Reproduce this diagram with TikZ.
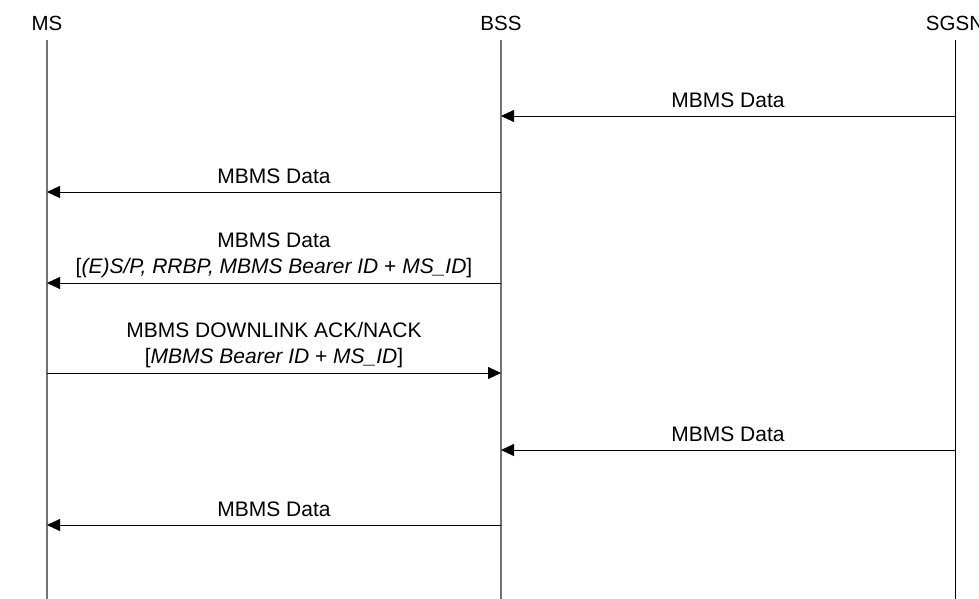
\documentclass[tikz,border=0pt]{standalone}
\usepackage{fontspec}
\setmainfont{Liberation Sans}
\usetikzlibrary{arrows.meta}
\tikzset{
  lifeline/.style={draw=black!55, line width=1.3pt},
  lifelineb/.style={draw=black, line width=1pt},
  msg/.style={draw=black, line width=0.9pt, -{Triangle[length=13pt,width=12pt]}},
  lbl/.style={inner sep=0pt, anchor=base, font=\fontsize{21}{25}\selectfont},
  head/.style={inner sep=0pt, anchor=base, font=\fontsize{20.5}{25}\selectfont}
}
\begin{document}
\begin{tikzpicture}[x=1pt,y=-1pt]
\useasboundingbox (0,0) rectangle (979,599);
% headers
\node[head] (hms) at (47,31) {MS};
\node[head] (hbss) at (501,31) {BSS};
\node[head] (hsgsn) at (955,31) {SGSN};
% lifelines
\coordinate (ms0) at (47,40);  \coordinate (msE) at (47,599);
\coordinate (bss0) at (501,40); \coordinate (bssE) at (501,599);
\coordinate (sg0) at (955,40); \coordinate (sgE) at (955,599);
\draw[lifeline] (ms0) -- (msE);
\draw[lifeline] (bss0) -- (bssE);
\draw[lifelineb] (sg0) -- (sgE);
% message anchor points
\foreach \n/\y in {1/116,2/192,3/283,4/373,5/450,6/525}{
  \coordinate (ms\n) at (47,\y);
  \coordinate (bss\n) at (501,\y);
  \coordinate (sg\n) at (955,\y);
}
% 1
\draw[msg] (sg1) -- (bss1);
\node[lbl] (l1) at (728,107) {MBMS Data};
% 2
\draw[msg] (bss2) -- (ms2);
\node[lbl] (l2) at (274,183) {MBMS Data};
% 3
\draw[msg] (bss3) -- (ms3);
\node[lbl] (l3a) at (274,247) {MBMS Data};
\node[lbl] (l3b) at (274,273) {[\textit{(E)S/P, RRBP, MBMS Bearer ID} + \textit{MS\_ID}]};
% 4
\draw[msg] (ms4) -- (bss4);
\node[lbl] (l4a) at (274,337) {MBMS DOWNLINK ACK/NACK};
\node[lbl] (l4b) at (274,363) {[\textit{MBMS Bearer ID} + \textit{MS\_ID}]};
% 5
\draw[msg] (sg5) -- (bss5);
\node[lbl] (l5) at (728,441) {MBMS Data};
% 6
\draw[msg] (bss6) -- (ms6);
\node[lbl] (l6) at (274,516) {MBMS Data};
\end{tikzpicture}
\end{document}
